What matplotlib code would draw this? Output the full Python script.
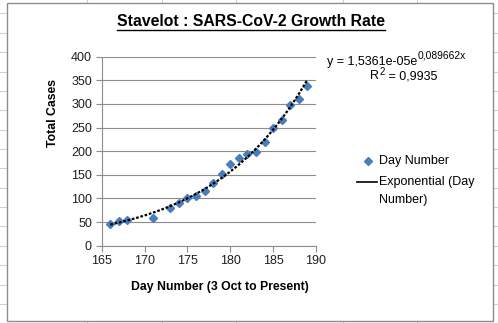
import matplotlib
matplotlib.use("Agg")
import matplotlib.pyplot as plt
import numpy as np
from matplotlib.lines import Line2D
from matplotlib.patches import Rectangle

plt.rcParams['font.family'] = ['Liberation Sans', 'DejaVu Sans']

# Data
day_number = [166, 167, 168, 171, 173, 174, 175, 176, 177, 178, 179, 180,
              181, 182, 183, 184, 185, 186, 187, 188, 189]
total_cases = [46, 53, 54, 59, 80, 91, 100, 106, 116, 133, 152, 173,
               186, 195, 199, 220, 250, 266, 298, 311, 339]
fit_a = 1.5361e-05
fit_b = 0.089662
r_squared = 0.9935
x_ticks = [165, 170, 175, 180, 185, 190]
y_ticks = [0, 50, 100, 150, 200, 250, 300, 350, 400]

W, H = 498, 323
fig = plt.figure(figsize=(W / 100, H / 100), dpi=100)

def fx(px):
    return px / W

def fy(py):
    return 1 - py / H

# spreadsheet background lines
sheet_col = '#d0d0d0'
for yy in [13, 33, 52, 72, 91, 110, 130, 149, 168, 188, 207, 226, 246, 265, 285, 304]:
    fig.add_artist(Line2D([0, 1], [fy(yy), fy(yy)], color=sheet_col, lw=0.8, zorder=0))
for xx in [87, 162, 236, 343, 417]:
    fig.add_artist(Line2D([fx(xx), fx(xx)], [0, 1], color=sheet_col, lw=0.8, zorder=0))
# chart area
fig.add_artist(Rectangle((fx(7), fy(320.5)), fx(493) - fx(7), fy(3) - fy(320.5),
                         facecolor='white', edgecolor='#8c8c8c', lw=1.0, zorder=1))

ax = fig.add_axes([fx(101.7), fy(245.7), fx(316) - fx(101.7), fy(56.7) - fy(245.7)], zorder=2)
ax.set_facecolor('none')
ax.set_xlim(165, 190)
ax.set_ylim(0, 400)
ax.set_xticks(x_ticks)
ax.set_yticks(y_ticks)
ax.tick_params(axis='both', labelsize=9, length=4, width=0.8, color='#8c8c8c', pad=3,
               labelcolor='#202020')
ax.yaxis.grid(True, color='#8c8c8c', lw=0.8)
ax.set_axisbelow(True)
for s in ['top', 'right']:
    ax.spines[s].set_visible(False)
for s in ['left', 'bottom']:
    ax.spines[s].set_color('#8c8c8c')
    ax.spines[s].set_linewidth(0.8)

blue = '#4a7ebb'
ax.plot(day_number, total_cases, linestyle='none', marker='D', markersize=3.8,
        color=blue, zorder=3)
xs = np.linspace(min(day_number), max(day_number), 200)
ax.plot(xs, fit_a * np.exp(fit_b * xs), color='black', lw=1.6,
        linestyle=(0, (1.2, 0.8)), zorder=4)

# axis labels
fig.text(fx(220), fy(287), 'Day Number (3 Oct to Present)', ha='center', va='center',
         fontsize=8.8, fontweight='bold')
fig.text(fx(53), fy(113), 'Total Cases', ha='center', va='center', rotation=90,
         fontsize=8.8, fontweight='bold')

# title
title = fig.text(fx(251), fy(22), 'Stavelot : SARS-CoV-2 Growth Rate', ha='center',
                 va='center', fontsize=11.3, fontweight='bold')

# equation (main text + superscript)
eq_main = fig.text(fx(327), fy(65), 'y = 1,5361e-05e', ha='left', va='baseline', fontsize=9)
r_main = fig.text(fx(370), fy(79.5), 'R', ha='left', va='baseline', fontsize=9)
fig.canvas.draw()
renderer = fig.canvas.get_renderer()
bb = title.get_window_extent(renderer)
fig.add_artist(Line2D([bb.x0 / W, bb.x1 / W], [fy(29.5), fy(29.5)], color='black', lw=1.0))
eb = eq_main.get_window_extent(renderer)
fig.text(eb.x1 / W + 0.001, fy(58.8), '0,089662x', ha='left', va='baseline', fontsize=7.4)
rb = r_main.get_window_extent(renderer)
sup2 = fig.text(rb.x1 / W + 0.001, fy(75), '2', ha='left', va='baseline', fontsize=7)
fig.canvas.draw()
sb = sup2.get_window_extent(renderer)
fig.text(sb.x1 / W, fy(79.5), ' = 0,9935', ha='left', va='baseline', fontsize=9)

# legend
fig.add_artist(Line2D([fx(368)], [fy(160.7)], marker='D', markersize=3.8, color=blue,
                      linestyle='none'))
fig.text(fx(379), fy(160.7), 'Day Number', ha='left', va='center', fontsize=9)
fig.add_artist(Line2D([fx(357), fx(377)], [fy(181.5), fy(181.5)], color='black', lw=1.2))
fig.text(fx(379), fy(181.5), 'Exponential (Day', ha='left', va='center', fontsize=9)
fig.text(fx(379), fy(200), 'Number)', ha='left', va='center', fontsize=9)

fig.savefig('out.png', dpi=100)
